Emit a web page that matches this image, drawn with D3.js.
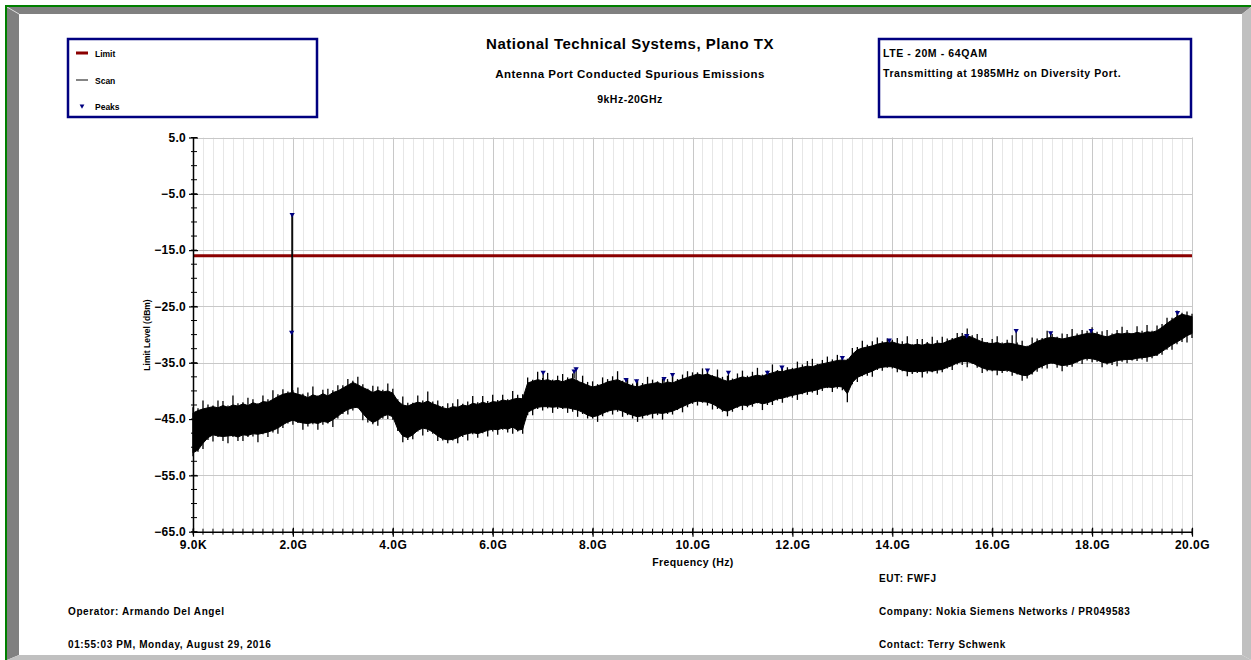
<!DOCTYPE html>
<html>
<head>
<meta charset="utf-8">
<script src="https://cdn.jsdelivr.net/npm/d3@7"></script>
<style>
  body { margin: 0; background: #fff; }
  svg text { font-family: "Liberation Sans", Arial, sans-serif; font-weight: bold; fill: #000; }
</style>
</head>
<body>
<svg id="chart" width="1251" height="660"></svg>
<script>
// ---- data ----
var xMajor = [0, 2, 4, 6, 8, 10, 12, 14, 16, 18, 20];           // GHz
var xTickLabels = ["9.0K", "2.0G", "4.0G", "6.0G", "8.0G", "10.0G", "12.0G", "14.0G", "16.0G", "18.0G", "20.0G"];
var yMajor = [-65, -55, -45, -35, -25, -15, -5, 5];             // dBm

var limitLevel = -16;

// sweep 9kHz..20GHz, read every 0.1 GHz
var scanStep = 0.1;
// body of the trace (solid black part)
var scanTop = [
  -43.9,-43.5,-43.2,-43.0,-42.8,-43.0,-42.6,-42.9,-42.5,-42.7,
  -42.3,-42.6,-42.1,-42.4,-41.9,-42.0,-41.5,-41.0,-40.6,-40.4,
  -40.3,-40.6,-40.8,-41.2,-40.7,-41.0,-40.5,-40.9,-40.3,-40.0,
  -39.5,-39.0,-38.5,-38.9,-39.4,-39.8,-40.3,-39.9,-40.2,-40.0,
  -40.4,-41.8,-42.5,-42.7,-42.3,-42.0,-42.2,-41.8,-42.3,-42.6,
  -43.0,-43.2,-42.8,-42.9,-42.5,-42.7,-42.2,-42.4,-42.0,-42.3,
  -41.9,-42.0,-41.6,-41.8,-41.5,-41.3,-41.4,-38.6,-38.3,-38.0,
  -38.2,-38.0,-38.3,-38.1,-38.4,-38.0,-37.8,-38.3,-38.6,-39.0,
  -39.3,-39.1,-38.8,-38.4,-38.2,-38.0,-38.4,-38.8,-39.1,-39.3,
  -39.0,-38.8,-38.7,-38.5,-38.8,-38.4,-38.6,-38.2,-37.9,-37.6,
  -37.3,-37.0,-37.2,-37.0,-37.4,-37.6,-38.0,-38.3,-38.1,-37.8,
  -37.5,-37.7,-37.4,-37.2,-37.4,-37.0,-36.8,-36.5,-36.6,-36.3,
  -36.2,-36.0,-35.8,-35.6,-35.7,-35.4,-35.2,-35.0,-34.8,-34.6,
  -34.5,-34.6,-33.5,-32.7,-32.4,-32.2,-32.0,-31.7,-31.5,-31.4,
  -31.3,-31.6,-31.8,-31.6,-31.9,-31.7,-31.9,-31.6,-31.8,-31.5,
  -31.6,-31.2,-30.9,-30.6,-30.3,-30.2,-30.5,-30.9,-31.3,-31.5,
  -31.6,-31.4,-31.7,-31.5,-31.6,-31.8,-32.0,-32.2,-31.7,-31.2,
  -30.9,-30.6,-30.5,-30.6,-30.8,-30.6,-30.4,-30.2,-30.0,-29.8,
  -29.7,-29.9,-30.2,-30.4,-30.1,-29.8,-29.9,-29.7,-29.9,-29.6,
  -29.8,-29.5,-29.6,-29.3,-28.7,-28.0,-27.4,-26.8,-26.4,-26.6,
  -26.8
];
var scanBottom = [
  -51.0,-50.5,-49.3,-48.3,-47.8,-48.0,-48.1,-48.0,-47.9,-48.2,
  -47.8,-47.9,-47.6,-47.7,-47.5,-47.3,-47.0,-46.6,-46.0,-45.5,
  -45.2,-45.5,-45.7,-45.8,-45.6,-45.8,-45.4,-45.6,-45.1,-44.5,
  -43.8,-43.3,-43.0,-42.9,-44.0,-45.0,-45.6,-45.2,-44.5,-44.2,
  -44.6,-46.8,-48.0,-48.3,-47.8,-47.0,-46.6,-46.8,-47.3,-48.0,
  -48.5,-48.7,-48.6,-48.3,-47.8,-47.6,-47.4,-47.6,-47.3,-47.0,
  -46.8,-46.9,-46.6,-46.8,-46.4,-47.0,-46.8,-43.8,-43.3,-42.9,
  -42.8,-42.8,-42.9,-42.8,-43.0,-43.0,-43.2,-43.4,-43.8,-44.3,
  -44.6,-44.4,-44.0,-43.6,-43.4,-43.3,-43.6,-44.0,-44.3,-44.6,
  -44.4,-44.2,-44.0,-43.9,-44.0,-43.8,-43.6,-43.2,-42.8,-42.4,
  -42.0,-41.8,-41.9,-42.0,-42.3,-42.8,-43.4,-43.6,-43.2,-42.8,
  -42.5,-42.6,-42.3,-42.0,-42.3,-42.1,-41.8,-41.4,-41.3,-41.0,
  -40.8,-40.6,-40.4,-40.1,-40.0,-39.8,-39.5,-39.3,-39.4,-39.2,
  -39.3,-40.5,-38.5,-37.6,-37.2,-36.8,-36.5,-36.0,-35.8,-35.7,
  -35.7,-36.0,-36.3,-36.5,-36.6,-36.5,-36.6,-36.4,-36.5,-36.3,
  -36.2,-35.8,-35.5,-35.0,-34.8,-34.8,-35.0,-35.5,-35.9,-36.2,
  -36.3,-36.3,-36.4,-36.3,-36.6,-36.9,-37.2,-37.3,-36.8,-36.0,
  -35.6,-35.2,-35.0,-35.3,-35.5,-35.4,-35.2,-34.8,-34.4,-34.2,
  -34.3,-34.5,-34.9,-35.1,-34.9,-34.6,-34.5,-34.4,-34.4,-34.2,
  -34.1,-34.0,-33.8,-33.6,-33.0,-32.4,-31.8,-31.3,-30.8,-30.2,
  -29.8
];
// tips of the noise spikes (max / min at each reading)
var scanMax = [
  -42.9,-43.1,-41.7,-42.4,-42.6,-41.7,-41.8,-42.6,-40.8,-42.2,
  -42.0,-41.2,-41.5,-42.2,-40.8,-41.5,-39.9,-40.6,-39.7,-40.1,
  -39.9,-39.4,-40.5,-40.3,-39.2,-40.8,-39.8,-39.6,-39.9,-39.0,
  -39.0,-37.9,-38.2,-37.5,-38.8,-39.6,-39.1,-39.2,-39.8,-38.7,
  -39.6,-41.5,-41.0,-42.1,-42.1,-40.8,-41.7,-40.1,-41.9,-41.7,
  -42.7,-42.2,-42.2,-41.5,-42.3,-41.9,-40.9,-42.0,-40.9,-41.8,
  -40.7,-41.6,-40.7,-41.5,-40.0,-40.7,-40.6,-37.6,-38.0,-36.6,
  -37.7,-36.8,-38.0,-37.3,-37.0,-37.6,-36.9,-38.1,-37.3,-38.4,
  -38.3,-38.8,-37.6,-37.9,-37.4,-36.5,-38.2,-37.9,-38.7,-38.2,
  -38.6,-37.5,-38.0,-38.3,-37.8,-37.9,-37.2,-37.9,-37.1,-36.5,
  -36.7,-36.7,-36.0,-36.2,-37.2,-36.2,-37.5,-37.3,-37.8,-36.9,
  -36.4,-37.3,-36.6,-35.9,-37.1,-36.4,-35.3,-36.3,-35.7,-35.8,
  -35.9,-34.8,-35.3,-34.7,-34.3,-35.2,-34.5,-33.9,-34.4,-33.6,
  -33.9,-34.3,-32.4,-32.2,-31.1,-31.8,-31.2,-30.5,-31.2,-30.7,
  -30.9,-30.6,-31.2,-30.3,-31.7,-30.8,-30.8,-31.3,-30.4,-31.0,
  -30.4,-30.7,-30.6,-29.7,-29.7,-28.9,-30.1,-29.9,-30.6,-31.3,
  -30.8,-30.3,-31.4,-30.9,-30.1,-31.4,-31.1,-32.0,-30.5,-30.7,
  -30.6,-29.3,-29.9,-30.4,-29.8,-29.9,-29.0,-29.8,-29.2,-29.3,
  -28.7,-29.5,-29.4,-29.2,-29.8,-29.2,-28.6,-29.2,-29.7,-28.5,
  -29.3,-28.3,-29.3,-28.4,-28.1,-27.0,-27.0,-25.7,-26.1,-25.9,
  -26.3
];
var scanMin = [
  -51.6,-50.8,-50.3,-48.7,-49.0,-48.2,-48.9,-49.3,-48.2,-48.9,
  -48.9,-48.2,-48.1,-49.1,-47.7,-48.2,-47.4,-47.6,-46.6,-45.8,
  -46.0,-45.7,-46.9,-46.3,-45.9,-46.9,-46.0,-45.8,-46.4,-44.9,
  -44.1,-44.2,-43.5,-43.1,-45.2,-45.6,-45.9,-46.2,-44.9,-45.0,
  -45.1,-47.1,-49.1,-48.7,-48.6,-47.2,-47.9,-47.3,-47.6,-48.9,
  -48.8,-49.3,-48.8,-49.3,-48.2,-48.8,-47.7,-48.3,-47.5,-48.1,
  -47.2,-47.8,-46.9,-47.4,-47.6,-47.2,-47.6,-44.3,-44.3,-43.2,
  -43.5,-43.1,-43.9,-43.2,-43.2,-43.9,-43.7,-44.6,-44.1,-44.9,
  -44.9,-45.5,-44.5,-43.8,-44.2,-43.7,-44.6,-44.3,-44.9,-45.5,
  -44.9,-44.4,-44.9,-44.3,-45.1,-44.1,-44.2,-43.4,-43.8,-42.9,
  -42.3,-42.6,-42.1,-42.6,-43.3,-43.2,-43.7,-44.5,-43.7,-43.0,
  -43.4,-42.9,-42.8,-42.2,-43.4,-42.5,-42.5,-41.7,-42.1,-41.2,
  -41.2,-41.6,-40.6,-40.7,-40.3,-40.7,-40.0,-39.5,-40.2,-39.6,
  -39.9,-42.0,-38.8,-38.4,-37.4,-37.3,-37.5,-36.3,-36.4,-35.9,
  -36.0,-36.7,-36.5,-37.4,-37.0,-36.8,-37.6,-36.9,-36.7,-36.9,
  -36.7,-36.0,-36.3,-35.3,-35.4,-35.8,-35.2,-35.9,-36.8,-36.5,
  -36.5,-37.2,-36.8,-36.6,-37.3,-37.1,-38.2,-37.8,-37.1,-36.6,
  -36.0,-36.0,-35.2,-35.9,-36.5,-35.7,-35.7,-35.0,-35.2,-34.6,
  -34.9,-34.8,-35.8,-35.3,-35.4,-35.6,-34.8,-35.1,-34.6,-34.7,
  -34.4,-34.8,-34.2,-33.8,-33.6,-32.7,-32.7,-31.7,-31.3,-31.4,
  -30.6
];

// carrier at 1985 MHz
var carrierFreqs = [1.975, 1.985];
var carrierLevels = [-29.4, -8.5];

// peak markers
var peakFreqs  = [1.985, 1.975, 7.01, 7.63, 7.67, 8.67, 8.88, 9.43, 9.60, 10.30, 10.72, 11.50, 11.79, 13.00, 13.94, 15.49, 16.48, 17.17, 17.98, 19.71];
var peakLevels = [-8.5, -29.4, -36.5, -36.3, -35.9, -37.8, -38.0, -37.6, -36.9, -36.1, -36.5, -36.5, -35.6, -33.9, -30.8, -30.0, -29.1, -29.5, -29.1, -25.9];

var legendNames = ["Limit", "Scan", "Peaks"];
var titleLines = ["National Technical Systems, Plano TX", "Antenna Port Conducted Spurious Emissions", "9kHz-20GHz"];
var noteLines = ["LTE - 20M - 64QAM", "Transmitting at 1985MHz on Diversity Port."];
var footLeft = ["Operator: Armando Del Angel", "01:55:03 PM, Monday, August 29, 2016"];
var footRight = ["EUT: FWFJ", "Company: Nokia Siemens Networks / PR049583", "Contact: Terry Schwenk"];

// ---- setup ----
var svg = d3.select("#chart");
var W = 1251, H = 660;

var x = d3.scaleLinear().domain([0, 20]).range([193, 1192]);
var y = d3.scaleLinear().domain([-65, 5]).range([531.7, 137.5]);

// frame (bevel)
svg.append("rect").attr("width", W).attr("height", H).attr("fill", "#fff");
svg.append("polygon").attr("points", "7,7 1251,7 1242,14 19,14").attr("fill", "#808080");
svg.append("polygon").attr("points", "7,7 19,14 19,655 7,660").attr("fill", "#808080");
svg.append("polygon").attr("points", "1251,7 1251,660 1242,655 1242,14").attr("fill", "#c0c0c0");
svg.append("polygon").attr("points", "7,660 1251,660 1242,655 19,655").attr("fill", "#c0c0c0");
svg.append("line").attr("x1", 7).attr("y1", 7).attr("x2", 19).attr("y2", 14).attr("stroke", "#d8d8d8").attr("stroke-width", 1);
svg.append("line").attr("x1", 5).attr("y1", 6).attr("x2", W).attr("y2", 6).attr("stroke", "#008000").attr("stroke-width", 2);
svg.append("line").attr("x1", 6).attr("y1", 5).attr("x2", 6).attr("y2", H).attr("stroke", "#008000").attr("stroke-width", 2);

// grid
var xMinor = d3.range(0, 101).map(function(i) { return i * 0.2; });
var grid = svg.append("g");
grid.selectAll(".vminor").data(xMinor).enter().append("line")
  .attr("x1", function(d) { return Math.round(x(d)) + 0.5; })
  .attr("x2", function(d) { return Math.round(x(d)) + 0.5; })
  .attr("y1", y(5)).attr("y2", y(-65))
  .attr("stroke", "#e6e6e6");
grid.selectAll(".vmajor").data(xMajor).enter().append("line")
  .attr("x1", function(d) { return Math.round(x(d)) + 0.5; })
  .attr("x2", function(d) { return Math.round(x(d)) + 0.5; })
  .attr("y1", y(5)).attr("y2", y(-65))
  .attr("stroke", "#c8c8c8");
grid.selectAll(".hmajor").data(yMajor).enter().append("line")
  .attr("x1", x(0)).attr("x2", x(20))
  .attr("y1", function(d) { return Math.round(y(d)) + 0.5; })
  .attr("y2", function(d) { return Math.round(y(d)) + 0.5; })
  .attr("stroke", "#c8c8c8");

// limit line
svg.append("line")
  .attr("x1", x(0)).attr("x2", x(20))
  .attr("y1", y(limitLevel)).attr("y2", y(limitLevel))
  .attr("stroke", "#8b0000").attr("stroke-width", 3);

// scan trace: solid body + noise spikes
var scan = scanTop.map(function(t, i) {
  return { f: +(i * scanStep).toFixed(1), top: t, bot: scanBottom[i], hi: scanMax[i], lo: scanMin[i] };
});
var area = d3.area()
  .x(function(d) { return x(d.f); })
  .y0(function(d) { return y(d.bot); })
  .y1(function(d) { return y(d.top); });
svg.append("path").datum(scan)
  .attr("d", area)
  .attr("fill", "#000").attr("stroke", "#000").attr("stroke-width", 1);
svg.append("g").selectAll("line").data(scan).enter().append("line")
  .attr("x1", function(d) { return x(d.f); })
  .attr("x2", function(d) { return x(d.f); })
  .attr("y1", function(d) { return y(d.lo); })
  .attr("y2", function(d) { return y(d.hi); })
  .attr("stroke", "#000").attr("stroke-width", 1.3);

function topAt(f) {
  return scanTop[Math.min(scanTop.length - 1, Math.round(f / scanStep))];
}

// carrier spike
svg.selectAll(".carrier").data(carrierFreqs).enter().append("line")
  .attr("x1", function(d) { return x(d); })
  .attr("x2", function(d) { return x(d); })
  .attr("y1", function(d) { return y(topAt(d)); })
  .attr("y2", function(d, i) { return y(carrierLevels[i]); })
  .attr("stroke", "#000").attr("stroke-width", 1.3);

// small spikes under peak markers
svg.selectAll(".pk-spike").data(peakFreqs).enter().append("line")
  .attr("x1", function(d) { return x(d); })
  .attr("x2", function(d) { return x(d); })
  .attr("y1", function(d) { return y(topAt(d)); })
  .attr("y2", function(d, i) { return y(peakLevels[i]); })
  .attr("stroke", "#000").attr("stroke-width", 1.2);

// peak markers
var tri = d3.symbol().type(d3.symbolTriangle).size(12);
svg.selectAll(".peak").data(peakFreqs).enter().append("path")
  .attr("d", tri)
  .attr("transform", function(d, i) { return "translate(" + x(d) + "," + (y(peakLevels[i]) + 1) + ") rotate(180)"; })
  .attr("fill", "#000080");

// axes
var xAxis = d3.axisBottom(x).tickValues(xMajor)
  .tickFormat(function(d, i) { return xTickLabels[i]; })
  .tickSizeInner(5).tickSizeOuter(0).tickPadding(4);
var gx = svg.append("g").attr("transform", "translate(0," + y(-65) + ")").call(xAxis);
gx.select(".domain").attr("stroke", "#000").attr("stroke-width", 1.5);
gx.selectAll(".tick line").attr("y1", -4).attr("stroke", "#000").attr("stroke-width", 1.2);
gx.selectAll(".tick text").attr("font-size", 12).attr("letter-spacing", 0.5)
  .attr("font-family", "Liberation Sans, Arial, sans-serif").attr("font-weight", "bold").attr("fill", "#000");
gx.selectAll(".minor").data(xMinor).enter().append("line")
  .attr("x1", function(d) { return x(d); }).attr("x2", function(d) { return x(d); })
  .attr("y1", -3).attr("y2", 3).attr("stroke", "#000");

var yMinor = d3.range(0, 29).map(function(i) { return -65 + i * 2.5; });
var yAxis = d3.axisLeft(y).tickValues(yMajor)
  .tickFormat(d3.format(".1f"))
  .tickSizeInner(4).tickSizeOuter(0).tickPadding(3);
var gy = svg.append("g").attr("transform", "translate(" + x(0) + ",0)").call(yAxis);
gy.select(".domain").attr("stroke", "#000").attr("stroke-width", 1.5);
gy.selectAll(".tick line").attr("x2", 5).attr("x1", -4).attr("stroke", "#000").attr("stroke-width", 1.2);
gy.selectAll(".tick text").attr("font-size", 12).attr("letter-spacing", 0.3)
  .attr("font-family", "Liberation Sans, Arial, sans-serif").attr("font-weight", "bold").attr("fill", "#000");
gy.selectAll(".minor").data(yMinor).enter().append("line")
  .attr("x1", -2).attr("x2", 4)
  .attr("y1", function(d) { return y(d); }).attr("y2", function(d) { return y(d); })
  .attr("stroke", "#000");

// axis titles
svg.append("text").attr("x", 693).attr("y", 566)
  .attr("text-anchor", "middle").attr("font-size", 10.5).attr("letter-spacing", 0.4)
  .text("Frequency (Hz)");
svg.append("text").attr("transform", "translate(150,335) rotate(-90)")
  .attr("text-anchor", "middle").attr("font-size", 8.5)
  .text("Limit Level (dBm)");

// titles
var titleSizes = [15, 11.5, 10.5];
var titleY = [49, 78, 103];
svg.selectAll(".title").data(titleLines).enter().append("text")
  .attr("x", 630).attr("y", function(d, i) { return titleY[i]; })
  .attr("text-anchor", "middle")
  .attr("font-size", function(d, i) { return titleSizes[i]; })
  .attr("letter-spacing", 0.5)
  .text(function(d) { return d; });

// legend box
svg.append("rect").attr("x", 68).attr("y", 39).attr("width", 249).attr("height", 78)
  .attr("fill", "none").attr("stroke", "#000080").attr("stroke-width", 2.5);
var legY = [53, 80, 106];
var lg = svg.selectAll(".leg").data(legendNames).enter().append("g")
  .attr("transform", function(d, i) { return "translate(0," + legY[i] + ")"; });
lg.append("text").attr("x", 95).attr("y", 3.5).attr("font-size", 8.5).text(function(d) { return d; });
lg.filter(function(d) { return d === "Limit"; }).append("rect")
  .attr("x", 76).attr("y", -1.5).attr("width", 12).attr("height", 3).attr("fill", "#8b0000");
lg.filter(function(d) { return d === "Scan"; }).append("line")
  .attr("x1", 76).attr("x2", 88).attr("y1", 0).attr("y2", 0).attr("stroke", "#333").attr("stroke-width", 1.2);
lg.filter(function(d) { return d === "Peaks"; }).append("path")
  .attr("d", d3.symbol().type(d3.symbolTriangle).size(10))
  .attr("transform", "translate(82,0) rotate(180)").attr("fill", "#000080");

// note box
svg.append("rect").attr("x", 879).attr("y", 39).attr("width", 312).attr("height", 78)
  .attr("fill", "none").attr("stroke", "#000080").attr("stroke-width", 2.5);
svg.selectAll(".note").data(noteLines).enter().append("text")
  .attr("x", 883).attr("y", function(d, i) { return 57 + i * 20; })
  .attr("font-size", 10.5).attr("letter-spacing", 0.6)
  .text(function(d) { return d; });

// footer
svg.selectAll(".footL").data(footLeft).enter().append("text")
  .attr("x", 68).attr("y", function(d, i) { return 614.5 + i * 33; })
  .attr("font-size", 10).attr("letter-spacing", 0.6)
  .text(function(d) { return d; });
var footRY = [581.5, 614.5, 647.5];
svg.selectAll(".footR").data(footRight).enter().append("text")
  .attr("x", 879).attr("y", function(d, i) { return footRY[i]; })
  .attr("font-size", 10).attr("letter-spacing", 0.6)
  .text(function(d) { return d; });
</script>
</body>
</html>
